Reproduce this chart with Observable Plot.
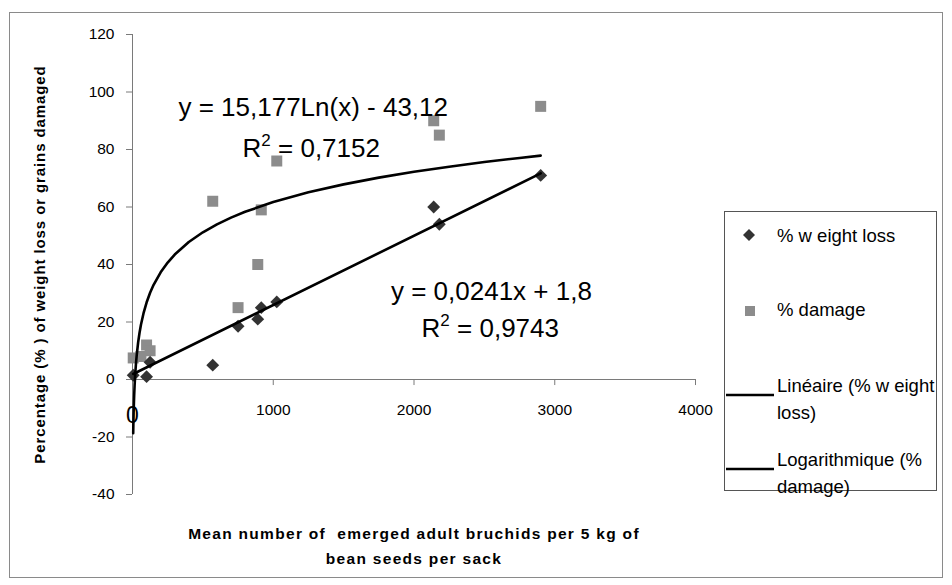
<!DOCTYPE html>
<html>
<head>
<meta charset="utf-8">
<script src="https://cdn.jsdelivr.net/npm/d3@7"></script>
<script src="https://cdn.jsdelivr.net/npm/@observablehq/plot@0.6"></script>
<style>
  body { margin: 0; background: #fff; font-family: "Liberation Sans", Arial, sans-serif; }
  #wrap { position: relative; width: 952px; height: 585px; overflow: hidden; }
  #border { position: absolute; left: 9px; top: 12px; width: 932px; height: 564px; border: 1px solid #8a8a8a; }
  #chart { position: absolute; left: 0; top: 0; }
  #legend { position: absolute; left: 724px; top: 211px; width: 211px; height: 278px; border: 1px solid #555; background: #fff; }
  .li { position: absolute; left: 52px; font-size: 18.5px; line-height: 27px; color: #000; white-space: nowrap; }
  .sym { position: absolute; }
</style>
</head>
<body>
<div id="wrap">
  <div id="border"></div>
  <div id="chart"></div>
  <div id="legend"></div>
</div>
<script>
// ---- data ----
const weightX = [5, 100, 125, 570, 750, 890, 915, 1025, 2140, 2180, 2900];
const weightY = [1.5, 1, 6, 5, 18.5, 21, 25, 27, 60, 54, 71];
const damageX = [5, 60, 100, 125, 570, 750, 890, 915, 1025, 2140, 2180, 2900];
const damageY = [7.5, 8, 12, 10, 62, 25, 40, 59, 76, 90, 85, 95];

// trendline coefficients as printed on the chart
const linSlope = 0.0241, linIntercept = 1.8;
const logCoef = 15.177, logIntercept = -43.12;
const linSampleX = [5, 2900];
const logSampleX = [5, 6, 7, 8, 10, 12, 15, 20, 25, 30, 40, 50, 60, 80, 100, 125, 150, 200, 250, 300, 400, 500, 600, 700, 800, 1000, 1250, 1500, 1750, 2000, 2250, 2500, 2750, 2900];

const xTicks = [1000, 2000, 3000, 4000];
const yTicks = [-40, -20, 0, 20, 40, 60, 80, 100, 120];

const equationText = ["y = 15,177Ln(x) - 43,12", "R^2 = 0,7152", "y = 0,0241x + 1,8", "R^2 = 0,9743"];
const equationX = [1284, 1270, 2550, 2542];
const equationY = [94.6, 80.3, 30.6, 17.7];

const yTitle = "Percentage (% ) of weight loss or grains damaged";
const xTitle = "Mean number of  emerged adult bruchids per 5 kg of\nbean seeds per sack";

const legendItems = ["% w eight loss", "% damage", "Linéaire (% w eight\nloss)", "Logarithmique (%\ndamage)"];

// ---- build tables ----
const weight = weightX.map((x, i) => ({x, y: weightY[i]}));
const damage = damageX.map((x, i) => ({x, y: damageY[i]}));
const linLine = linSampleX.map(x => ({x, y: linSlope * x + linIntercept}));
const logLine = logSampleX.map(x => ({x, y: logCoef * Math.log(x) + logIntercept}));
const equations = equationText.map((t, i) => ({t, x: equationX[i], y: equationY[i]}));

const font = "Liberation Sans, Arial, sans-serif";

const chart = Plot.plot({
  width: 952,
  height: 585,
  marginLeft: 132,
  marginRight: 257,
  marginTop: 34,
  marginBottom: 91,
  style: {fontFamily: font, fontSize: "15px", background: "transparent", color: "#000", overflow: "visible"},
  x: {domain: [0, 4000], axis: null},
  y: {domain: [-40, 120], axis: null},
  marks: [
    Plot.ruleX([0], {stroke: "#7a7a7a", strokeWidth: 1}),
    Plot.axisY({ticks: yTicks, tickSize: 6, tickPadding: 12, label: null, fontSize: 15.5, stroke: "#7a7a7a", tickFormat: d => String(d)}),
    Plot.ruleY([0], {stroke: "#7a7a7a", strokeWidth: 1}),
    Plot.ruleX(xTicks, {x: d => d, y1: 0, y2: -2.1, stroke: "#7a7a7a"}),
    Plot.text(xTicks, {x: d => d, y: 0, dy: 31, text: d => String(d), fontSize: 15.5, fill: "#000"}),
    Plot.text([0], {x: d => d, y: 0, dy: 36, text: d => String(d), fontSize: 23, fill: "#000"}),
    Plot.dot(damage, {x: "x", y: "y", symbol: "square", r: 6.2, fill: "#8c8c8c", stroke: "none"}),
    Plot.dot(weight, {x: "x", y: "y", symbol: "diamond2", r: 5.8, fill: "#333333", stroke: "none"}),
    Plot.line(logLine, {x: "x", y: "y", stroke: "#000", strokeWidth: 2.6, curve: "linear"}),
    Plot.line(linLine, {x: "x", y: "y", stroke: "#000", strokeWidth: 2.6}),
    Plot.text(equations, {x: "x", y: "y", text: "t", fontSize: 26, fill: "#000"}),
    Plot.text([yTitle], {frameAnchor: "left", textAnchor: "middle", lineAnchor: "middle", dx: -92, rotate: -90, text: d => d, fontSize: 15, fontWeight: "bold", fill: "#000", className: "ytitle"}),
    Plot.text([xTitle], {frameAnchor: "bottom", lineAnchor: "middle", dy: 49, text: d => d, fontSize: 15.5, fontWeight: "bold", fill: "#000", lineHeight: 1.62, className: "xtitle"})
  ]
});
document.getElementById("chart").appendChild(chart);

// superscript 2 in R^2
chart.querySelectorAll("text").forEach(t => {
  if (t.textContent.includes("R^2")) {
    const rest = t.textContent.replace("R^2", "");
    t.textContent = "";
    const ns = "http://www.w3.org/2000/svg";
    const a = document.createElementNS(ns, "tspan"); a.textContent = "R";
    const b = document.createElementNS(ns, "tspan"); b.textContent = "2"; b.setAttribute("dy", "-11"); b.setAttribute("font-size", "17");
    const c = document.createElementNS(ns, "tspan"); c.textContent = rest; c.setAttribute("dy", "11");
    t.append(a, b, c);
  }
});
chart.querySelectorAll(".xtitle text").forEach(t => t.setAttribute("letter-spacing", "1.3"));
chart.querySelectorAll(".ytitle text").forEach(t => t.setAttribute("letter-spacing", "0.9"));

// legend
const legend = document.getElementById("legend");
const legendTop = [23, 97, 173, 247];
legendItems.forEach((label, i) => {
  const d = document.createElement("div");
  d.className = "li";
  d.style.top = (legendTop[i] - 13.5) + "px";
  d.innerHTML = label.split("\n").join("<br>");
  legend.appendChild(d);
});
const mk = (html) => { const s = document.createElement("div"); s.className = "sym"; s.innerHTML = html; legend.appendChild(s); return s; };
let s1 = mk('<svg width="14" height="14"><path d="M7,1 L13,7 L7,13 L1,7 Z" fill="#333"/></svg>');
s1.style.left = "17px"; s1.style.top = (legendTop[0] - 7) + "px";
let s2 = mk('<svg width="12" height="12"><rect x="1" y="1" width="10" height="10" fill="#8c8c8c"/></svg>');
s2.style.left = "19px"; s2.style.top = (legendTop[1] - 6) + "px";
[2, 3].forEach(i => {
  let l = mk('<svg width="48" height="4"><line x1="0" y1="2" x2="48" y2="2" stroke="#000" stroke-width="2.6"/></svg>');
  l.style.left = "1px"; l.style.top = (legendTop[i] - 2) + "px";
});
</script>
</body>
</html>
